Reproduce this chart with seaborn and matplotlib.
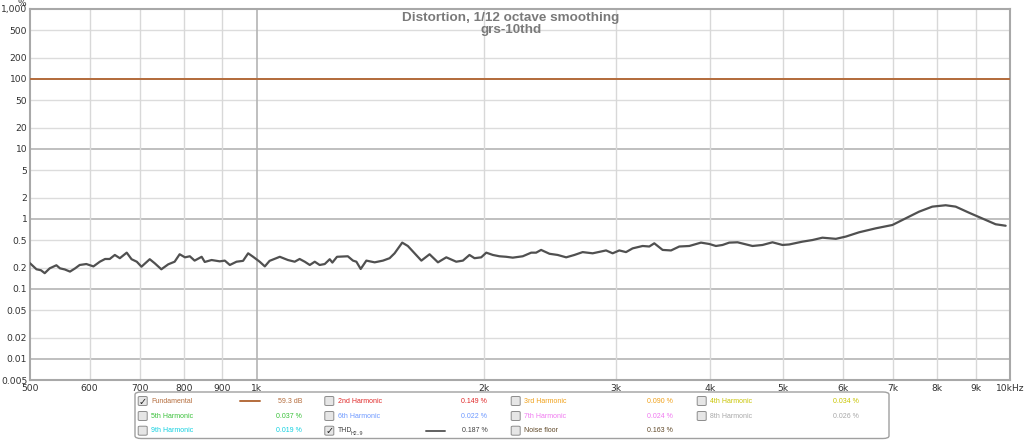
import matplotlib
matplotlib.use("Agg")
import matplotlib.pyplot as plt
import seaborn as sns
from matplotlib.ticker import FixedLocator, FixedFormatter, NullLocator
from matplotlib.patches import FancyBboxPatch
from matplotlib.lines import Line2D

# ---------------- data ----------------
thd_freq = [500, 510, 517, 523, 531, 542, 548, 556, 565, 574, 582, 594, 607, 619, 629, 638,
            648, 658, 672, 682, 693, 703, 721, 732, 747, 763, 778, 790, 803, 815, 827, 845,
            853, 871, 893, 907, 921, 940, 959, 974, 989, 1009, 1025, 1040, 1073, 1100, 1123,
            1140, 1158, 1176, 1194, 1212, 1231, 1250, 1260, 1278, 1321, 1342, 1356, 1374,
            1398, 1434, 1471, 1501, 1524, 1560, 1587, 1620, 1654, 1696, 1740, 1785, 1840,
            1878, 1916, 1946, 1986, 2017, 2058, 2100, 2144, 2187, 2255, 2314, 2349, 2385,
            2447, 2509, 2575, 2641, 2708, 2792, 2909, 2968, 3029, 3092, 3155, 3253, 3320,
            3371, 3458, 3548, 3639, 3752, 3888, 3988, 4070, 4153, 4239, 4348, 4551, 4693,
            4838, 4988, 5091, 5302, 5467, 5636, 5872, 6054, 6305, 6635, 6980, 7271, 7572,
            7886, 8215, 8470, 8820, 9282, 9570, 9868]
thd_pct = [0.233, 0.191, 0.185, 0.168, 0.197, 0.218, 0.197, 0.19, 0.177, 0.197, 0.22, 0.227,
           0.21, 0.245, 0.268, 0.268, 0.306, 0.275, 0.33, 0.266, 0.245, 0.208, 0.266, 0.233,
           0.191, 0.225, 0.245, 0.313, 0.283, 0.293, 0.254, 0.288, 0.243, 0.259, 0.248, 0.254,
           0.22, 0.245, 0.252, 0.323, 0.288, 0.245, 0.21, 0.252, 0.288, 0.259, 0.245, 0.268,
           0.245, 0.22, 0.245, 0.22, 0.227, 0.266, 0.238, 0.288, 0.293, 0.254, 0.245, 0.193,
           0.254, 0.240, 0.254, 0.275, 0.323, 0.459, 0.411, 0.323, 0.254, 0.313, 0.240, 0.283,
           0.245, 0.254, 0.306, 0.275, 0.283, 0.330, 0.306, 0.293, 0.288, 0.28, 0.293, 0.33,
           0.33, 0.361, 0.318, 0.306, 0.283, 0.306, 0.336, 0.323, 0.355, 0.323, 0.355, 0.336,
           0.38, 0.411, 0.404, 0.449, 0.361, 0.355, 0.404, 0.411, 0.459, 0.439, 0.411, 0.425,
           0.459, 0.464, 0.411, 0.425, 0.464, 0.425, 0.432, 0.474, 0.50, 0.54, 0.52, 0.56,
           0.645, 0.735, 0.82, 1.02, 1.27, 1.50, 1.57, 1.50, 1.23, 0.97, 0.84, 0.80]

fund_freq = [500, 10000]
fund_pct = [100, 100]

x_ticks = [500, 600, 700, 800, 900, 1000, 2000, 3000, 4000, 5000, 6000, 7000, 8000, 9000, 10000]
x_labels = ["500", "600", "700", "800", "900", "1k", "2k", "3k", "4k", "5k", "6k", "7k",
            "8k", "9k", "10kHz"]
y_ticks = [0.005, 0.01, 0.02, 0.05, 0.1, 0.2, 0.5, 1, 2, 5, 10, 20, 50, 100, 200, 500, 1000]
y_labels = ["0.005", "0.01", "0.02", "0.05", "0.1", "0.2", "0.5", "1", "2", "5", "10", "20",
            "50", "100", "200", "500", "1,000"]

title_lines = ["Distortion, 1/12 octave smoothing", "grs-10thd"]

legend_names = ["Fundamental", "2nd Harmonic", "3rd Harmonic", "4th Harmonic",
                "5th Harmonic", "6th Harmonic", "7th Harmonic", "8th Harmonic",
                "9th Harmonic", "THD", "Noise floor"]
legend_values = ["59.3 dB", "0.149 %", "0.090 %", "0.034 %",
                 "0.037 %", "0.022 %", "0.024 %", "0.026 %",
                 "0.019 %", "0.187 %", "0.163 %"]
legend_checked = [True, False, False, False, False, False, False, False, False, True, False]
legend_colors = ["#b46c3c", "#e02828", "#f0a018", "#c8c400",
                 "#38c038", "#6c98ff", "#f078f0", "#a8a8a8",
                 "#10d0e0", "#404040", "#604828"]

# ---------------- figure ----------------
sns.set_theme(style="white")
plt.rcParams["font.family"] = ["DejaVu Sans"]

W, H = 1024, 440
fig = plt.figure(figsize=(W / 100, H / 100), dpi=100)
fig.patch.set_facecolor("white")

def fx(px):
    return px / W

def fy(py):
    return 1 - py / H

ax = fig.add_axes([fx(30), fy(380), fx(1010) - fx(30), fy(9) - fy(380)])
ax.set_facecolor("white")
ax.set_xscale("log")
ax.set_yscale("log")
ax.set_xlim(500, 10000)
ax.set_ylim(0.005, 1000)

# grid
for yv in y_ticks[1:-1]:
    dec = yv in (0.01, 0.1, 1, 10, 100)
    ax.axhline(yv, color="#b4b4b4" if dec else "#dcdcdc", lw=1.2 if dec else 1.0, zorder=0)
for xv in x_ticks[1:-1]:
    dec = xv == 1000
    ax.axvline(xv, color="#b4b4b4" if dec else "#d8d8d8", lw=1.2 if dec else 1.0, zorder=0)

sns.lineplot(x=fund_freq, y=fund_pct, ax=ax, color="#b46c3c", lw=1.4, zorder=3)
sns.lineplot(x=thd_freq, y=thd_pct, ax=ax, color="#505050", lw=1.6, zorder=4)

ax.xaxis.set_major_locator(FixedLocator(x_ticks))
ax.xaxis.set_major_formatter(FixedFormatter(x_labels))
ax.xaxis.set_minor_locator(NullLocator())
ax.yaxis.set_major_locator(FixedLocator(y_ticks))
ax.yaxis.set_major_formatter(FixedFormatter(y_labels))
ax.yaxis.set_minor_locator(NullLocator())
ax.tick_params(axis="both", length=0, labelsize=6.6, labelcolor="#303030")
ax.tick_params(axis="x", pad=3)
ax.tick_params(axis="y", pad=2)
for s in ax.spines.values():
    s.set_color("#a8a8a8")
    s.set_linewidth(1.5)

fig.text(fx(22), fy(3), "%", fontsize=6.6, color="#303030", ha="center", va="center")

fig.text(fx(511), fy(17.5), title_lines[0], ha="center", va="center", fontsize=9.7,
         color="#7a7a7a", family="Liberation Sans", weight="bold", zorder=5)
fig.text(fx(511), fy(30.5), title_lines[1], ha="center", va="center", fontsize=9.7,
         color="#7a7a7a", family="Liberation Sans", weight="bold", zorder=5)

# ---------------- legend panel ----------------
box = FancyBboxPatch((fx(135), fy(438.5)), fx(889) - fx(135), fy(392) - fy(438.5),
                     boxstyle="round,pad=0,rounding_size=0.006", transform=fig.transFigure,
                     facecolor="white", edgecolor="#a0a0a0", lw=1.0)
fig.patches.append(box)

col_cb = [142.7, 329.3, 515.7, 701.7]
col_val = [302, 487.3, 673.3, 859.3]
row_y = [401, 416, 430.7]
line_samples = {0: (240, 260), 9: (426, 445)}
cw, ch = 9.0, 9.0
for i, name in enumerate(legend_names):
    r, c = divmod(i, 4)
    cx, cy = col_cb[c], row_y[r]
    cb = FancyBboxPatch((fx(cx - cw / 2), fy(cy + ch / 2)), fx(cw), ch / H,
                        boxstyle="round,pad=0,rounding_size=0.0018", transform=fig.transFigure,
                        facecolor="#e6e6e6", edgecolor="#8c8c8c", lw=0.7)
    fig.patches.append(cb)
    if legend_checked[i]:
        fig.text(fx(cx + 0.3), fy(cy + 0.5), "\u2713", fontsize=7, color="#202020",
                 ha="center", va="center", weight="bold")
    tx = fx(cx + 8.5)
    if name == "THD":
        fig.text(tx, fy(cy), "THD", fontsize=5.0, color=legend_colors[i], ha="left",
                 va="center", family="Liberation Sans")
        fig.text(fx(cx + 21.5), fy(cy + 3), "H2..9", fontsize=3.8, color=legend_colors[i],
                 ha="left", va="center", family="Liberation Sans")
    else:
        fig.text(tx, fy(cy), name, fontsize=5.0, color=legend_colors[i], ha="left",
                 va="center", family="Liberation Sans")
    fig.text(fx(col_val[c]), fy(cy), legend_values[i], fontsize=5.0, color=legend_colors[i],
             ha="right", va="center", family="Liberation Sans")
    if i in line_samples:
        x0, x1 = line_samples[i]
        fig.add_artist(Line2D([fx(x0), fx(x1)], [fy(cy), fy(cy)], transform=fig.transFigure,
                              color=legend_colors[i] if i == 0 else "#606060", lw=1.4))

fig.savefig("out.png", dpi=100, facecolor="white")
